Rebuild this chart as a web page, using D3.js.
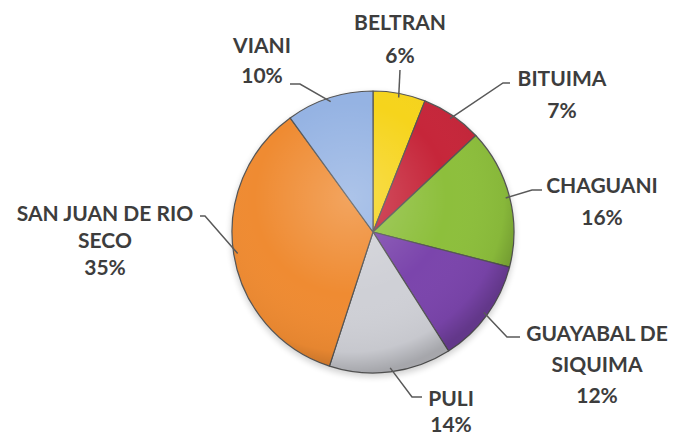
<!DOCTYPE html>
<html>
<head>
<meta charset="utf-8">
<script src="https://cdn.jsdelivr.net/npm/d3@7"></script>
<style>
  body { margin: 0; background: #fff; }
  svg { display: block; }
</style>
</head>
<body>
<div id="chart"></div>
<script>
// municipios y porcentajes, en orden horario desde las 12
const names = ["BELTRAN", "BITUIMA", "CHAGUANI", "GUAYABAL DE SIQUIMA", "PULI", "SAN JUAN DE RIO SECO", "VIANI"]
const values = [6, 7, 16, 12, 14, 35, 10]
const colors = ["#f6d41c", "#c6263a", "#8dbf3c", "#7b45ac", "#cfd0d6", "#ef8b32", "#95b3e3"]

// label text lines (as Excel wrapped them)
const labelLines = [
    ["BELTRAN"],
    ["BITUIMA"],
    ["CHAGUANI"],
    ["GUAYABAL DE", "SIQUIMA"],
    ["PULI"],
    ["SAN JUAN DE RIO", "SECO"],
    ["VIANI"]
]

// layout only: label block centre (first line), line gap and leader elbow/end, relative to pie centre
const labelLayout = [
    { x: 27, y: -210, gap: 33, elbow: [27, -162], end: [27, -162] },
    { x: 189, y: -154, gap: 32, elbow: [130, -149], end: [137, -149] },
    { x: 229, y: -47, gap: 32, elbow: [159, -42], end: [169, -42] },
    { x: 224, y: 101, gap: 31, elbow: [134, 105], end: [147, 105] },
    { x: 78, y: 166, gap: 26, elbow: [39, 165], end: [49, 165] },
    { x: -268, y: -19, gap: 27, elbow: [-168, -16], end: [-173, -16] },
    { x: -111, y: -187, gap: 30, elbow: [-73, -148], end: [-83, -148] }
]

const width = 673
const height = 438
const cx = 373
const cy = 232
const radius = 141

const svg = d3.select("#chart")
    .append("svg")
    .attr("width", width)
    .attr("height", height)

const defs = svg.append("defs")

const shade = defs.append("radialGradient")
    .attr("id", "shade")
    .attr("cx", "42%")
    .attr("cy", "38%")
    .attr("r", "62%")
shade.append("stop").attr("offset", "0%").attr("stop-color", "#fff").attr("stop-opacity", 0.22)
shade.append("stop").attr("offset", "55%").attr("stop-color", "#fff").attr("stop-opacity", 0)
shade.append("stop").attr("offset", "88%").attr("stop-color", "#000").attr("stop-opacity", 0.04)
shade.append("stop").attr("offset", "100%").attr("stop-color", "#000").attr("stop-opacity", 0.2)

const blur = defs.append("filter").attr("id", "soft").attr("x", "-20%").attr("y", "-20%").attr("width", "140%").attr("height", "140%")
blur.append("feGaussianBlur").attr("stdDeviation", 3)

const g = svg.append("g")
    .attr("transform", `translate(${cx}, ${cy})`)

const pie = d3.pie()
    .sort(null)
    .value(d => d)

const arcs = pie(values)

const arc = d3.arc()
    .innerRadius(0)
    .outerRadius(radius)

const edgeArc = d3.arc()
    .innerRadius(radius - 4)
    .outerRadius(radius - 4)

// soft shadow behind the pie
g.append("circle")
    .attr("r", radius + 1)
    .attr("cy", 3)
    .attr("fill", "#000")
    .attr("opacity", 0.18)
    .attr("filter", "url(#soft)")

g.append("g")
    .selectAll("path")
    .data(arcs)
    .join("path")
    .attr("d", arc)
    .attr("fill", (d, i) => colors[i])
    .attr("stroke", "#555")
    .attr("stroke-width", 1.2)
    .attr("stroke-linejoin", "round")

g.append("circle")
    .attr("r", radius)
    .attr("fill", "url(#shade)")
    .style("pointer-events", "none")

// leader lines
g.append("g")
    .selectAll("polyline")
    .data(arcs)
    .join("polyline")
    .attr("points", (d, i) => {
        const p = edgeArc.centroid(d)
        const l = labelLayout[i]
        return [p, l.elbow, l.end].map(q => q.join(",")).join(" ")
    })
    .attr("fill", "none")
    .attr("stroke", "#595959")
    .attr("stroke-width", 1.5)

// labels
const labels = g.append("g")
    .selectAll("text")
    .data(arcs)
    .join("text")
    .attr("text-anchor", "middle")
    .attr("transform", (d, i) => `translate(${labelLayout[i].x}, ${labelLayout[i].y})`)
    .style("font-family", "Lato, 'Open Sans', sans-serif")
    .style("font-weight", "bold")
    .style("font-size", "21px")
    .style("fill", "#3d3d3d")

labels.each(function (d, i) {
    const t = d3.select(this)
    const lines = labelLines[i].concat([d.data + "%"])
    lines.forEach((s, k) => {
        t.append("tspan")
            .attr("x", 0)
            .attr("y", k * labelLayout[i].gap)
            .attr("dy", "0.36em")
            .text(s)
    })
})
</script>
</body>
</html>
